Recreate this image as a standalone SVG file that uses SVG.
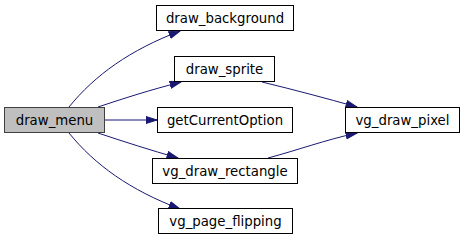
<svg xmlns="http://www.w3.org/2000/svg" width="465" height="240" viewBox="0 0 465 240">
  <style>
    .node rect { fill: #ffffff; stroke: #000000; stroke-width: 1; }
    .node.root rect { fill: #bfbfbf; stroke: #404040; }
    .node text { font-family: "DejaVu Sans", sans-serif; font-size: 13.3px; fill: #000000; text-anchor: middle; }
    .edge { fill: none; stroke: #191970; stroke-width: 1; marker-end: url(#arrow); }
  </style>
  <defs>
    <marker id="arrow" markerUnits="userSpaceOnUse" markerWidth="13" markerHeight="9" refX="11.5" refY="4" orient="auto">
      <path d="M0.5,0.5 L11.5,4 L0.5,7.5 z" fill="#191970" stroke="#191970"/>
    </marker>
  </defs>

  <g id="connectors">
    <path class="edge" d="M69,107 C95,75 130,50 180,31"/>
    <path class="edge" d="M98,107 C125,98 150,90 181,82"/>
    <path class="edge" d="M104,120 L157,120"/>
    <path class="edge" d="M98,133 C125,142 150,150 178,158"/>
    <path class="edge" d="M69,133 C95,165 130,190 180,209"/>
    <path class="edge" d="M262,82 C295,90 325,98 357,107"/>
    <path class="edge" d="M268,158 C298,150 325,140 357,133"/>
  </g>

  <g id="draw_menu" class="node root">
    <rect x="4.5" y="107.5" width="100" height="25"/>
    <text x="54.5" y="125">draw_menu</text>
  </g>
  <g id="draw_background" class="node">
    <rect x="156.5" y="5.5" width="137" height="25"/>
    <text x="225" y="23">draw_background</text>
  </g>
  <g id="draw_sprite" class="node">
    <rect x="174.5" y="56.5" width="100" height="25"/>
    <text x="224.5" y="74">draw_sprite</text>
  </g>
  <g id="getCurrentOption" class="node">
    <rect x="157.5" y="107.5" width="135" height="25"/>
    <text x="225" y="125">getCurrentOption</text>
  </g>
  <g id="vg_draw_rectangle" class="node">
    <rect x="152.5" y="158.5" width="145" height="25"/>
    <text x="225" y="176">vg_draw_rectangle</text>
  </g>
  <g id="vg_page_flipping" class="node">
    <rect x="158.5" y="208.5" width="134" height="25"/>
    <text x="225.5" y="226">vg_page_flipping</text>
  </g>
  <g id="vg_draw_pixel" class="node">
    <rect x="345.5" y="107.5" width="114" height="25"/>
    <text x="402.5" y="125">vg_draw_pixel</text>
  </g>
</svg>
